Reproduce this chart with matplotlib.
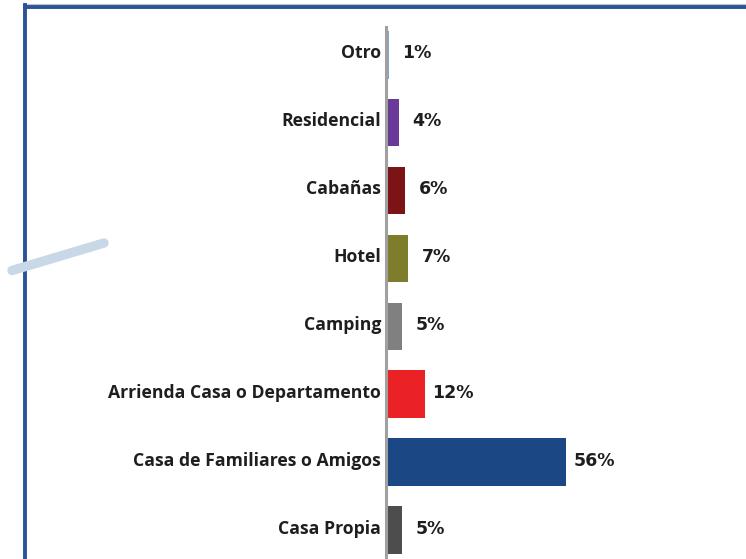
import matplotlib
matplotlib.use("Agg")
import matplotlib.pyplot as plt
from matplotlib.lines import Line2D

categories = ["Casa Propia", "Casa de Familiares o Amigos", "Arrienda Casa o Departamento",
              "Camping", "Hotel", "Cabañas", "Residencial", "Otro"]
values = [5, 56, 12, 5, 7, 6, 4, 1]
colors = ["#4d4d4d", "#1b4785", "#ea2226", "#808080", "#7d7d2b", "#7c1417", "#6b3a98", "#7fa6d6"]

W, H = 746, 559
fig = plt.figure(figsize=(W / 100, H / 100), dpi=100)
fig.patch.set_facecolor("white")

# decorative frame
fig.add_artist(Line2D([25 / W, 1], [1 - 4 / H, 1 - 4 / H], color="#c0c0c0", lw=0.8))
fig.add_artist(Line2D([25 / W, 1], [1 - 6.5 / H, 1 - 6.5 / H], color="#2b5496", lw=2.8))
fig.add_artist(Line2D([25 / W, 25 / W], [0, 1 - 5 / H], color="#2b5496", lw=2.8))
fig.add_artist(Line2D([12 / W, 104 / W], [1 - 270.5 / H, 1 - 243 / H], color="#c9d8e7",
                      lw=6.8, solid_capstyle="round"))

ax_left = 386 / W
ax_width = 321.4 / W
ax = fig.add_axes([ax_left, 0, ax_width, 1 - 27 / H])
ypos = list(range(len(categories)))
ax.barh(ypos, values, height=0.70, color=colors, edgecolor="none", zorder=2)
ax.set_xlim(0, 100)
ax.set_ylim(-0.427, 7.41)
for s in ["top", "right", "bottom"]:
    ax.spines[s].set_visible(False)
ax.spines["left"].set_color("#a0a0a0")
ax.spines["left"].set_linewidth(2.2)
ax.set_xticks([])
ax.set_yticks([])
font = ["Open Sans", "DejaVu Sans"]
px = 0.72  # points per pixel at 100 dpi
for y, c in zip(ypos, categories):
    ax.annotate(c, (0, y), xytext=(-5 * px, 1.5 * px), textcoords="offset points",
                ha="right", va="center", fontsize=12.7, fontweight="bold", family=font,
                color="#1e1e1e", annotation_clip=False)
for y, v in zip(ypos, values):
    ax.annotate(f"{v}%", (v + 8.7, y), xytext=(0, 1.5 * px), textcoords="offset points",
                va="center", ha="center", fontsize=12.5, fontweight="bold",
                family=["DejaVu Sans"], color="#1e1e1e", annotation_clip=False)
ax.patch.set_alpha(0)

fig.savefig("out.png", dpi=100, facecolor="white")
